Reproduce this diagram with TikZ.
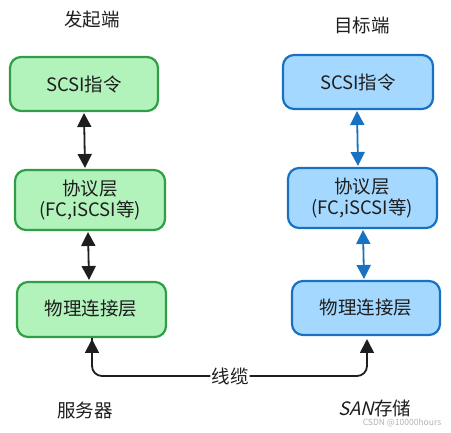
\documentclass[tikz,border=0pt]{standalone}
\usepackage{fontspec}
\setmainfont{Noto Sans CJK SC}
\newfontfamily\slantfont[FakeSlant=0.25]{Noto Sans CJK SC}
\usetikzlibrary{arrows.meta}
\definecolor{gfill}{HTML}{B2F2BB}
\definecolor{gline}{HTML}{2F9E44}
\definecolor{bfill}{HTML}{A5D8FF}
\definecolor{bline}{HTML}{1971C2}
\definecolor{ink}{HTML}{1E1E1E}
\begin{document}
\begin{tikzpicture}[x=1pt,y=-1pt,
  box/.style={rounded corners=11pt,line width=2.2pt},
  gbox/.style={box,draw=gline,fill=gfill},
  bbox/.style={box,draw=bline,fill=bfill},
  lbl/.style={font=\fontsize{18.5}{21}\selectfont,text=ink,align=center},
  conn/.style={line width=1.8pt,{Triangle[length=14pt,width=14pt]}-{Triangle[length=14pt,width=14pt]}},
  cable/.style={line width=1.8pt,draw=ink,-{Triangle[length=14pt,width=14pt]},rounded corners=10pt}]
\useasboundingbox (0,0) rectangle (451,433);
% green column
\draw[gbox] (10,57) rectangle (158,111);
\node[lbl] (g1) at (84,84) {SCSI指令};
\draw[gbox] (15,170) rectangle (165,230);
\node[lbl] (g2) at (90,200) {协议层\\(FC,iSCSI等)};
\draw[gbox] (17,282) rectangle (166,337);
\node[lbl] (g3) at (91,309) {物理连接层};
\coordinate (g1b) at (84,113);
\coordinate (g2t) at (85,168);
\coordinate (g2b) at (88,232);
\coordinate (g3t) at (89,280);
\draw[conn,ink] (g1b) -- (g2t);
\draw[conn,ink] (g2b) -- (g3t);
% blue column
\draw[bbox] (283,55) rectangle (433,109);
\node[lbl] (b1) at (358,82) {SCSI指令};
\draw[bbox] (288,168) rectangle (437,228);
\node[lbl] (b2) at (362,198) {协议层\\(FC,iSCSI等)};
\draw[bbox] (292,281) rectangle (440,335);
\node[lbl] (b3) at (366,308) {物理连接层};
\coordinate (b1b) at (357,111);
\coordinate (b2t) at (358,166);
\coordinate (b2b) at (363,230);
\coordinate (b3t) at (364,279);
\draw[conn,bline] (b1b) -- (b2t);
\draw[conn,bline] (b2b) -- (b3t);
% cable
\coordinate (cs) at (92,339);
\coordinate (ce) at (367,337);
\node[lbl,fill=white,inner sep=1pt] (cab) at (230,376) {线缆};
\draw[cable,-] (cab.west) -| ([yshift=1pt]cs);
\draw[cable] (cab.east) -| ([yshift=-2pt]ce);
\draw[ink,line width=1.8pt,-{Triangle[length=14pt,width=14pt]}] (92,360) -- (cs);
% titles
\node[lbl] (t1) at (92,20) {发起端};
\node[lbl] (t2) at (362,25) {目标端};
\node[lbl] (t3) at (85,410) {服务器};
\node[lbl] (t4) at (375,408) {{\slantfont SAN}存储};
\node[font=\fontsize{8.5}{9}\selectfont,text=gray!60] (wm) at (402,423) {CSDN @10000hours};
\end{tikzpicture}
\end{document}
